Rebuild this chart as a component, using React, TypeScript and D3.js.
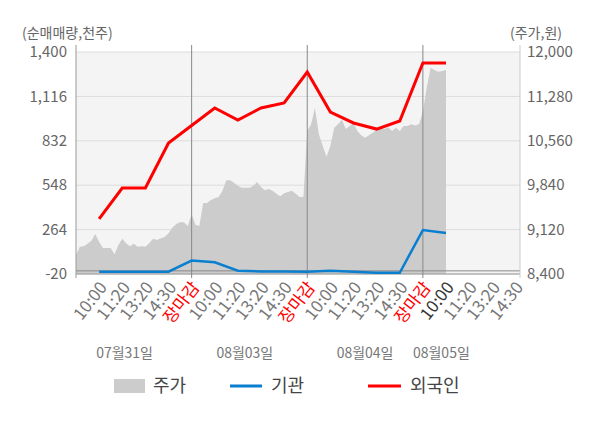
import * as React from 'react';
import {scaleLinear, line, area} from 'd3';

// 주가 (원), 6 samples per x slot, day by day
const priceDay1 = [8710, 8840, 8850, 8890, 8940, 9050, 8920, 8820, 8820, 8820, 8720, 8870, 8970, 8900, 8850, 8890,
    8840, 8850, 8840, 8900, 8970, 8950, 8980, 9000, 9060, 9150, 9210, 9240, 9240, 9180, 9370];
const priceDay2 = [9200, 9180, 9550, 9550, 9600, 9630, 9650, 9750, 9920, 9920, 9880, 9830, 9800, 9800, 9800,
    9830, 9890, 9810, 9760, 9780, 9750, 9700, 9660, 9710, 9730, 9750, 9700, 9650, 9650, 10720];
const priceDay3 = [10830, 11090, 10670, 10480, 10300, 10480, 10770, 10830, 10900, 10750, 10800, 10850, 10720,
    10650, 10610, 10650, 10690, 10740, 10770, 10750, 10780, 10720, 10770, 10720, 10800, 10800, 10830, 10810,
    10830, 11030];
const priceDay4 = [11420, 11740, 11710, 11680, 11690, 11710];
const prices = [...priceDay1, ...priceDay2, ...priceDay3, ...priceDay4];
const samplesPerSlot = 6;

// 순매매량 (천주), one value per slot 1..16
const foreign = [332, 530, 530, 818, 930, 1042, 965, 1042, 1074, 1272, 1016, 946, 907, 959, 1330, 1330];
const institution = [-5, -5, -5, -5, 66, 55, 1, -4, -4, -5, 1, -5, -12, -12, 261, 242];

const timeLabels = ['10:00', '11:20', '13:20', '14:30', '장마감'];
const days = ['07월31일', '08월03일', '08월04일', '08월05일'];
const dayLabelSlots = [2.1, 7.3, 12.5, 15.8];
const dividerSlots = [5, 10, 15];

const leftTicks = [-20, 264, 548, 832, 1116, 1400];
const rightTicks = [8400, 9120, 9840, 10560, 11280, 12000];

const width = 600;
const height = 428;
const plot = {left: 76, right: 520, top: 52, bottom: 274};
const font = '"Noto Sans CJK KR", "Noto Sans", sans-serif';

const x = scaleLinear().domain([0, 19.2]).range([plot.left, plot.right]);
const yLeft = scaleLinear().domain([-20, 1400]).range([plot.bottom, plot.top]);
const yRight = scaleLinear().domain([8400, 12000]).range([plot.bottom, plot.top]);

const fmt = (v: number) => v.toLocaleString('en-US');

const priceArea = area<number>()
    .x((d, i) => x(i / samplesPerSlot))
    .y0(plot.bottom)
    .y1(d => yRight(d));

const netLine = line<number>()
    .x((d, i) => x(i + 1))
    .y(d => yLeft(d));

const tickSlots: {slot: number, label: string}[] = [];
days.forEach((d, di) => {
    timeLabels.forEach((t, ti) => {
        const slot = di * 5 + ti + 1;
        if (slot <= 19) tickSlots.push({slot, label: t});
    });
});

export default function App() {
    return (
        <svg width={width} height={height}
             style={{display: 'block', position: 'absolute', left: 0, top: 0, fontFamily: font}}>
            <rect x={plot.left} y={plot.top} width={plot.right - plot.left} height={plot.bottom - plot.top} fill="#f4f4f4"/>
            {leftTicks.map(t =>
                <line key={t} x1={plot.left} x2={plot.right} y1={yLeft(t)} y2={yLeft(t)} stroke="#dcdcdc" strokeWidth={1}/>
            )}
            <path d={priceArea(prices) || ''} fill="#cccccc"/>
            <line x1={plot.left} x2={plot.right} y1={yLeft(0)} y2={yLeft(0)} stroke="#888" strokeWidth={1}/>
            <line x1={plot.left} x2={plot.right} y1={plot.bottom} y2={plot.bottom} stroke="#999" strokeWidth={1}/>
            {dividerSlots.map(s =>
                <line key={s} x1={x(s)} x2={x(s)} y1={45} y2={278} stroke="#888" strokeWidth={1}/>
            )}
            <line x1={plot.left} x2={plot.left} y1={45} y2={278} stroke="#999" strokeWidth={1}/>
            <line x1={plot.right} x2={plot.right} y1={45} y2={278} stroke="#ccc" strokeWidth={1}/>

            <path d={netLine(institution) || ''} fill="none" stroke="#0a7fd0" strokeWidth={2.5}/>
            <path d={netLine(foreign) || ''} fill="none" stroke="#ff0000" strokeWidth={3}/>

            <text x={22} y={38} fontSize={14} fill="#666">(순매매량,천주)</text>
            <text x={562} y={38} fontSize={14} fill="#666" textAnchor="end">(주가,원)</text>
            {leftTicks.map(t =>
                <text key={t} x={67} y={yLeft(t)} dy="0.35em" fontSize={15} fill="#666" textAnchor="end">{fmt(t)}</text>
            )}
            {rightTicks.map(t =>
                <text key={t} x={527} y={yRight(t)} dy="0.35em" fontSize={15} fill="#666">{fmt(t)}</text>
            )}
            {tickSlots.map(({slot, label}) => {
                const color = label === '장마감' ? '#ff0000' : slot === 16 ? '#333' : '#777';
                return (
                    <text key={slot} transform={`translate(${x(slot) + 4},${plot.bottom + 10}) rotate(-52)`}
                          fontSize={17} fill={color} textAnchor="end" dy="0.35em">{label}</text>
                );
            })}
            {days.map((d, i) =>
                <text key={d} x={x(dayLabelSlots[i])} y={358} fontSize={14} fill="#777" textAnchor="middle">{d}</text>
            )}

            <rect x={114} y={379} width={31} height={14} fill="#cccccc"/>
            <text x={153} y={386} dy="0.35em" fontSize={18} fill="#444">주가</text>
            <line x1={230} x2={262} y1={386} y2={386} stroke="#0a7fd0" strokeWidth={3}/>
            <text x={271} y={386} dy="0.35em" fontSize={18} fill="#444">기관</text>
            <line x1={368} x2={401} y1={386} y2={386} stroke="#ff0000" strokeWidth={3}/>
            <text x={410} y={386} dy="0.35em" fontSize={18} fill="#444">외국인</text>
        </svg>
    );
}
